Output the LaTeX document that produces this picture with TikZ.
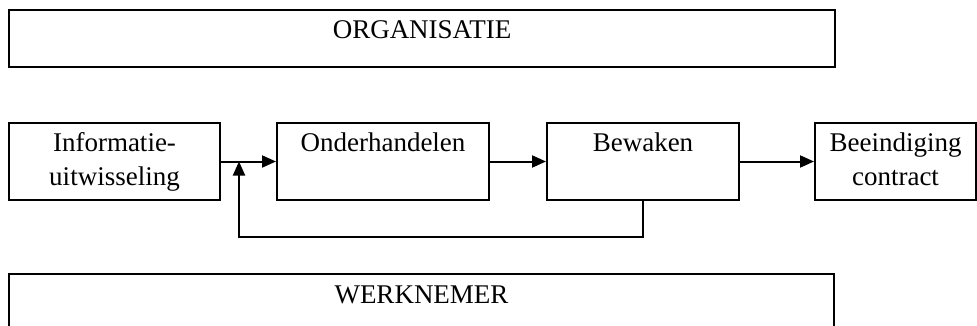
\documentclass[tikz,border=0pt]{standalone}
\usepackage{fontspec}
\setmainfont{Liberation Serif}
\usetikzlibrary{arrows.meta}

\begin{document}
\begin{tikzpicture}[x=1pt, y=-1pt,
        blok/.style={draw, line width=2pt, inner sep=0pt, align=center,
            minimum height=77pt, text height=29pt, text depth=48pt,
            font=\fontsize{27}{33}\selectfont},
        tweeregels/.style={text height=62pt, text depth=15pt},
        balk/.style={draw, line width=2.5pt, inner sep=0pt, minimum width=826pt,
            minimum height=57pt, text height=29pt, text depth=28pt,
            font=\fontsize{27}{33}\selectfont},
        pijl/.style={line width=2pt, -{Triangle[length=14pt, width=12pt]}}]
        \useasboundingbox (0,0) rectangle (977,326);

        % Organisatie en werknemer
        \node[balk] (org) at (422,38.5) {ORGANISATIE};
        \node[balk, minimum width=825pt] (werk) at (421.5,302.5) {WERKNEMER};

        % Fasen
        \node[blok, tweeregels, minimum width=211pt] (info) at (114.5,161.5) {Informatie-\\uitwisseling};
        \node[blok, minimum width=212pt] (onder) at (383,161.5) {Onderhandelen};
        \node[blok, minimum width=192pt] (bewaken) at (643,161.5) {Bewaken};
        \node[blok, tweeregels, minimum width=161pt] (einde) at (895.5,161.5) {Beeindiging\\contract};

        % Pijlen
        \draw[pijl] (info) -- (onder);
        \draw[pijl] (onder) -- (bewaken);
        \draw[pijl] (bewaken) -- (einde);

        % Terugkoppeling
        \coordinate (terug) at (239,237);
        \draw[pijl] (bewaken.south) |- (terug) -- (terug |- info.east);
    \end{tikzpicture}
\end{document}
